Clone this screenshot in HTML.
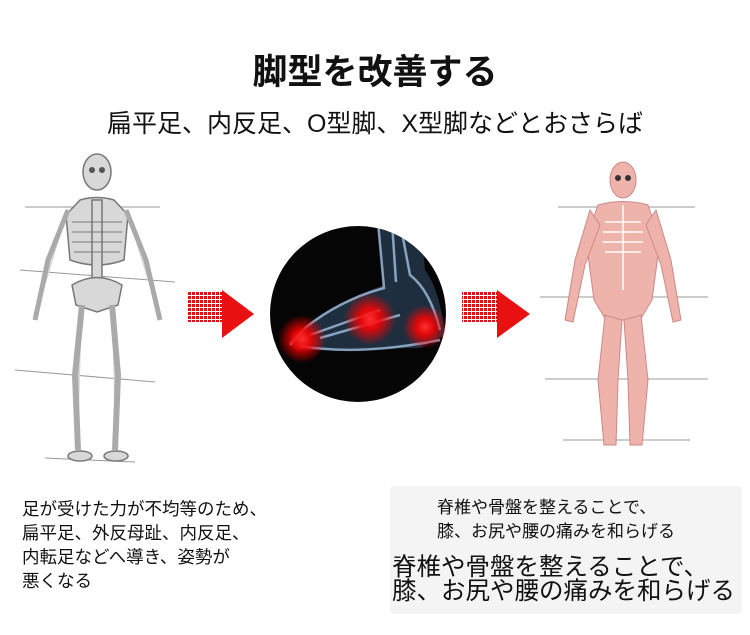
<!DOCTYPE html>
<html><head><meta charset="utf-8"><style>
body{margin:0;width:750px;height:635px;background:#fff;position:relative;overflow:hidden;font-family:"Liberation Sans","Noto Sans CJK JP",sans-serif;color:#111}
.a{position:absolute;white-space:nowrap}
</style></head><body>
<div class="a" style="left:0;width:750px;top:44px;text-align:center;font-size:35px;font-weight:bold;">脚型を改善する</div>
<div class="a" style="left:0;width:750px;top:104px;text-align:center;font-size:25px;">扁平足、内反足、O型脚、X型脚などとおさらば</div>

<svg class="a" style="left:0;top:0" width="750" height="480">
<defs>
<radialGradient id="g"><stop offset="0" stop-color="#ff3030"/><stop offset="0.4" stop-color="#ff0000" stop-opacity="0.85"/><stop offset="1" stop-color="#ff0000" stop-opacity="0"/></radialGradient>
<pattern id="p" width="4" height="4" patternUnits="userSpaceOnUse"><rect width="3" height="3" fill="#e01010"/></pattern>
<clipPath id="c"><circle cx="358" cy="314" r="88"/></clipPath>
</defs>
<g stroke="#999" fill="none">
<line x1="25" y1="207" x2="160" y2="207"/><line x1="20" y1="270" x2="175" y2="282"/><line x1="15" y1="370" x2="155" y2="382"/><line x1="45" y1="458" x2="135" y2="462"/>
</g>
<g fill="#d8d8d8" stroke="#777" stroke-width="1.5">
<ellipse cx="97" cy="172" rx="14" ry="18"/>
<path d="M80 200 Q97 195 114 200 L128 215 L124 260 Q97 270 70 260 L66 215 Z"/>
<rect x="92" y="200" width="10" height="80"/>
<path d="M72 285 Q97 270 122 285 L118 305 L97 312 L76 305 Z"/>
<path d="M68 210 L48 260 L35 320 M126 210 L146 260 L160 320" stroke-width="5" stroke="#aaa"/>
<path d="M82 305 L75 375 L78 450 M112 305 L118 375 L115 450" stroke-width="6" stroke="#aaa"/>
<ellipse cx="80" cy="456" rx="12" ry="5"/><ellipse cx="116" cy="456" rx="12" ry="5"/>
</g>
<g fill="#555"><circle cx="92" cy="170" r="3"/><circle cx="102" cy="170" r="3"/></g>
<g stroke="#777" fill="none">
<path d="M72 222 H122 M72 232 H122 M72 242 H122 M74 252 H120"/>
</g>
<rect x="187" y="292" width="35" height="30" fill="url(#p)"/>
<polygon points="222,290 254,314 222,338" fill="#e81010"/>
<rect x="462" y="292" width="35" height="30" fill="url(#p)"/>
<polygon points="497,290 530,314 497,338" fill="#e81010"/>
<circle cx="358" cy="314" r="88" fill="#050505"/>
<g clip-path="url(#c)">
<path d="M378 220 L420 220 L425 270 Q440 290 445 335 L420 348 L300 350 Q280 345 300 330 Q340 300 384 285 Z" fill="#34506e" opacity="0.55"/>
<g stroke="#9ab8d8" stroke-width="2.5" fill="none" opacity="0.85">
<path d="M378 222 L384 288 Q340 300 305 328 L290 345"/>
<path d="M400 222 L410 275 Q430 290 440 330"/>
<path d="M392 222 L396 282"/>
<path d="M300 346 Q360 356 440 340"/>
<path d="M310 335 L380 310 M320 338 L400 315"/>
</g>
</g>
<circle cx="302" cy="339" r="24" fill="url(#g)"/>
<circle cx="370" cy="319" r="26" fill="url(#g)"/>
<circle cx="425" cy="327" r="22" fill="url(#g)"/>
<g stroke="#999" fill="none">
<line x1="558" y1="207" x2="695" y2="207"/><line x1="540" y1="297" x2="708" y2="297"/><line x1="545" y1="379" x2="708" y2="379"/><line x1="563" y1="440" x2="690" y2="440"/>
</g>
<g fill="#eeb4ac" stroke="#c88" stroke-width="1">
<ellipse cx="623" cy="180" rx="13" ry="18"/>
<path d="M598 205 Q623 198 648 205 L660 240 L652 300 L640 320 L606 320 L594 300 L586 240 Z"/>
<path d="M590 210 L575 260 L565 320 L573 322 L585 265 L600 225 Z"/>
<path d="M656 210 L671 260 L681 320 L673 322 L661 265 L646 225 Z"/>
<path d="M605 315 L598 380 L604 445 L616 445 L618 380 L622 320 Z"/>
<path d="M641 315 L648 380 L642 445 L630 445 L628 380 L624 320 Z"/>
</g>
<g stroke="#fff" stroke-width="1.5" fill="none">
<path d="M605 222 H641 M603 232 H643 M603 242 H643 M605 252 H641"/><line x1="623" y1="205" x2="623" y2="290"/>
</g>
<g fill="#333"><circle cx="618" cy="178" r="3"/><circle cx="628" cy="178" r="3"/></g>
</svg>

<div class="a" style="left:22px;top:497px;font-size:17.5px;line-height:24px;">足が受けた力が不均等のため、<br>扁平足、外反母趾、内反足、<br>内転足などへ導き、姿勢が<br>悪くなる</div>
<div class="a" style="left:390px;top:486px;width:352px;height:128px;background:#f4f4f4;border-radius:4px"></div>
<div class="a" style="left:437px;top:496px;font-size:17px;line-height:24px;">脊椎や骨盤を整えることで、<br>膝、お尻や腰の痛みを和らげる</div>
<div class="a" style="left:392px;top:556px;font-size:24.5px;line-height:24px;">脊椎や骨盤を整えることで、<br>膝、お尻や腰の痛みを和らげる</div>
</body></html>
